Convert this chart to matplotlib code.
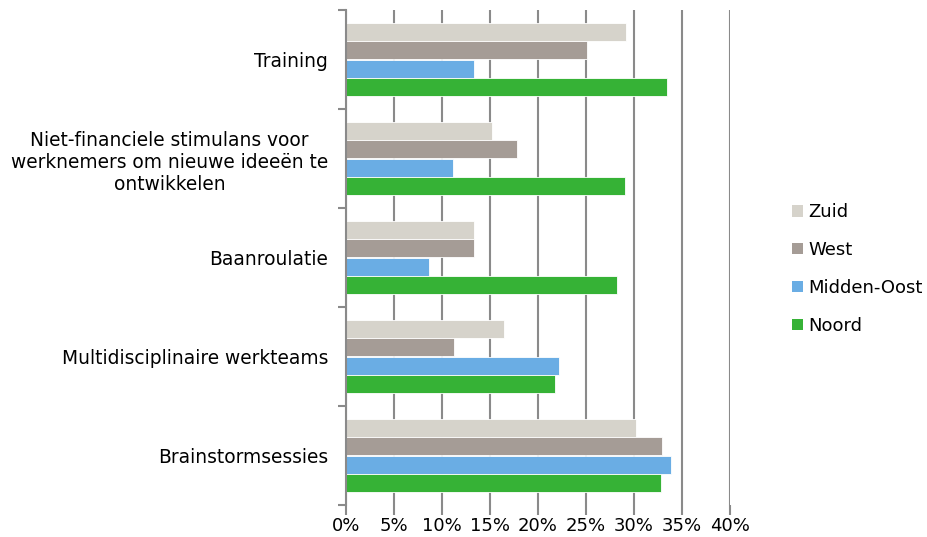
import numpy as np
import matplotlib.pyplot as plt
from matplotlib.patches import Patch

categories = ['Training',
              'Niet-financiele stimulans voor\nwerknemers om nieuwe ideeën te\nontwikkelen',
              'Baanroulatie',
              'Multidisciplinaire werkteams',
              'Brainstormsessies']
series = ['Zuid', 'West', 'Midden-Oost', 'Noord']
zuid = [29.2, 15.2, 13.3, 16.5, 30.2]
west = [25.1, 17.8, 13.3, 11.2, 32.9]
midden_oost = [13.3, 11.1, 8.6, 22.2, 33.9]
noord = [33.4, 29.1, 28.2, 21.8, 32.8]
colors = ['#D6D3CB', '#A59C96', '#6AADE4', '#36B236']

values = [zuid, west, midden_oost, noord]
grid_c = '#8a8a8a'
fs = 13.4

fig = plt.figure(figsize=(9.28, 5.37), dpi=100)
ax = fig.add_axes([346/928, 1 - 505/537, 384/928, 495/537])

n = len(categories)
y = np.arange(n)
h = 0.182
for i, (vals, c) in enumerate(zip(values, colors)):
    offs = (i - 1.5) * h
    ax.barh(y + offs, vals, height=h, color=c, edgecolor='white', linewidth=0.6,
            label=series[i], zorder=3)

ax.set_xlim(0, 40)
ax.set_ylim(n - 0.5, -0.5)
ax.set_xticks(np.arange(0, 41, 5))
ax.set_xticklabels([f'{v}%' for v in range(0, 41, 5)])
ax.set_yticks(y)
ax.set_yticklabels(categories)
for lab in ax.get_yticklabels():
    lab.set_multialignment('center')
ax.set_yticks(np.arange(-0.5, n, 1), minor=True)

ax.grid(axis='x', color=grid_c, linewidth=1.5, zorder=0)
ax.set_axisbelow(True)
for s in ['top', 'right', 'bottom']:
    ax.spines[s].set_visible(False)
ax.spines['left'].set_color(grid_c)
ax.spines['left'].set_linewidth(1.5)
ax.spines['left'].set_zorder(4)

ax.tick_params(axis='x', length=7, width=1.5, color=grid_c, labelsize=13, pad=1.5)
ax.tick_params(axis='y', which='major', length=0, labelsize=fs, pad=13)
ax.tick_params(axis='y', which='minor', length=6, width=1.5, color=grid_c)

handles = [Patch(facecolor=c, edgecolor='none') for c in colors]
fig.legend(handles, series, loc='center left', bbox_to_anchor=(785/928, 1 - 269/537),
           frameon=False, fontsize=13, handlelength=0.6, handleheight=0.6,
           handletextpad=0.3, labelspacing=1.1, borderaxespad=0)

fig.savefig('out.png', dpi=100)
